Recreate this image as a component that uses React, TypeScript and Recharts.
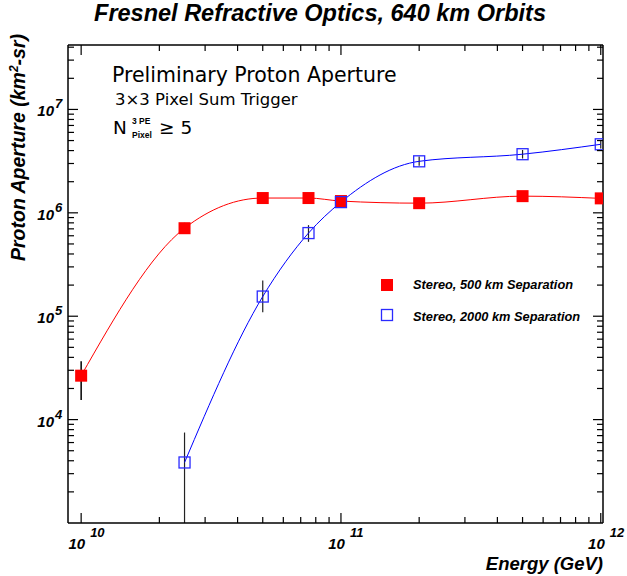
import { ComposedChart, Line, XAxis, YAxis, ErrorBar } from "recharts";

// Stereo, 500 km separation (filled red squares)
const energy500 = [1e10, 2.5e10, 5e10, 7.5e10, 1e11, 2e11, 5e11, 1e12];
const aperture500 = [2.66e4, 7.1e5, 1.39e6, 1.39e6, 1.3e6, 1.24e6, 1.45e6, 1.38e6];
const aperture500Low = [1.55e4, 6.3e5, 1.25e6, 1.25e6, 1.18e6, 1.12e6, 1.31e6, 1.25e6];
const aperture500High = [3.66e4, 8.0e5, 1.55e6, 1.55e6, 1.44e6, 1.38e6, 1.6e6, 1.52e6];

// Stereo, 2000 km separation (open blue squares)
const energy2000 = [2.5e10, 5e10, 7.5e10, 1e11, 2e11, 5e11, 1e12];
const aperture2000 = [3.85e3, 1.55e5, 6.37e5, 1.27e6, 3.15e6, 3.69e6, 4.6e6];
const aperture2000Low = [1e3, 1.09e5, 5.24e5, 1.12e6, 2.85e6, 3.35e6, 4.2e6];
const aperture2000High = [7.5e3, 2.21e5, 7.6e5, 1.45e6, 3.5e6, 4.05e6, 5.0e6];

const energyTicks = [
  1e10, 2e10, 3e10, 4e10, 5e10, 6e10, 7e10, 8e10, 9e10,
  1e11, 2e11, 3e11, 4e11, 5e11, 6e11, 7e11, 8e11, 9e11, 1e12,
];
const apertureTicks = [
  2e3, 3e3, 4e3, 5e3, 6e3, 7e3, 8e3, 9e3,
  1e4, 2e4, 3e4, 4e4, 5e4, 6e4, 7e4, 8e4, 9e4,
  1e5, 2e5, 3e5, 4e5, 5e5, 6e5, 7e5, 8e5, 9e5,
  1e6, 2e6, 3e6, 4e6, 5e6, 6e6, 7e6, 8e6, 9e6,
  1e7, 2e7, 3e7, 4e7,
];

const series500 = energy500.map((energy, i) => ({
  energy,
  aperture: aperture500[i],
  err: [aperture500[i] - aperture500Low[i], aperture500High[i] - aperture500[i]],
}));
const series2000 = energy2000.map((energy, i) => ({
  energy,
  aperture: aperture2000[i],
  err: [aperture2000[i] - aperture2000Low[i], aperture2000High[i] - aperture2000[i]],
}));

const axisFont = "'Liberation Sans', Arial, sans-serif";
const textFont = "'DejaVu Sans', sans-serif";
const isDecade = (v: number) => Math.abs(Math.log10(v) - Math.round(Math.log10(v))) < 1e-6;

const LeftTick = (props: any) => {
  const { x, y, payload } = props;
  const dec = isDecade(payload.value);
  return (
    <g>
      <line x1={x} x2={x + (dec ? 10 : 6)} y1={y} y2={y} stroke="#000" strokeWidth={1.2} />
      {dec && (
        <text fontFamily={axisFont} fontWeight="bold" fontStyle="italic" fill="#000">
          <tspan x={x - 14} y={y + 7} fontSize={15} textAnchor="end">10</tspan>
          <tspan x={x - 13} y={y - 1} fontSize={13}>{Math.round(Math.log10(payload.value))}</tspan>
        </text>
      )}
    </g>
  );
};

const RightTick = (props: any) => {
  const { x, y, payload } = props;
  const dec = isDecade(payload.value);
  return <line x1={x} x2={x - (dec ? 10 : 6)} y1={y} y2={y} stroke="#000" strokeWidth={1.2} />;
};

const BottomTick = (props: any) => {
  const { x, y, payload } = props;
  const dec = isDecade(payload.value);
  return (
    <g>
      <line x1={x} x2={x} y1={y} y2={y - (dec ? 10 : 6)} stroke="#000" strokeWidth={1.2} />
      {dec && (
        <text fontFamily={axisFont} fontWeight="bold" fontStyle="italic" fill="#000">
          <tspan x={x + 4} y={y + 26} fontSize={15} textAnchor="end">10</tspan>
          <tspan x={x + 9} y={y + 14} fontSize={13}>{Math.round(Math.log10(payload.value))}</tspan>
        </text>
      )}
    </g>
  );
};

const TopTick = (props: any) => {
  const { x, y, payload } = props;
  const dec = isDecade(payload.value);
  return <line x1={x} x2={x} y1={y} y2={y + (dec ? 10 : 6)} stroke="#000" strokeWidth={1.2} />;
};

const RedSquare = (props: any) => {
  const { cx, cy } = props;
  if (cx == null || cy == null) return <g />;
  return <rect x={cx - 6} y={cy - 6} width={12} height={12} fill="#ff0000" />;
};

const BlueSquare = (props: any) => {
  const { cx, cy } = props;
  if (cx == null || cy == null) return <g />;
  return <rect x={cx - 5.5} y={cy - 5.5} width={11} height={11} fill="none" stroke="#2a2aff" strokeWidth={1.3} />;
};

export default function App() {
  const xDomain: [number, number] = [8.9e9, 1.02e12];
  const yDomain: [number, number] = [1e3, 4.2e7];
  const axisLine = { stroke: "#000", strokeWidth: 1.5 };
  return (
    <div style={{ position: "absolute", left: 0, top: 0, width: 627, height: 576, background: "#fff" }}>
      <ComposedChart width={627} height={576} margin={{ top: 0, right: 0, bottom: 0, left: 0 }}>
        <XAxis xAxisId="b" type="number" dataKey="energy" scale="log" domain={xDomain} allowDataOverflow
          ticks={energyTicks} interval={0} tick={BottomTick} tickLine={false} tickSize={0} tickMargin={0}
          axisLine={axisLine} height={53} orientation="bottom" />
        <XAxis xAxisId="t" type="number" dataKey="energy" scale="log" domain={xDomain} allowDataOverflow
          ticks={energyTicks} interval={0} tick={TopTick} tickLine={false} tickSize={0} tickMargin={0}
          axisLine={axisLine} height={45} orientation="top" />
        <YAxis yAxisId="l" type="number" scale="log" domain={yDomain} allowDataOverflow
          ticks={apertureTicks} interval={0} tick={LeftTick} tickLine={false} tickSize={0} tickMargin={0}
          axisLine={axisLine} width={68} orientation="left" />
        <YAxis yAxisId="r" type="number" scale="log" domain={yDomain} allowDataOverflow
          ticks={apertureTicks} interval={0} tick={RightTick} tickLine={false} tickSize={0} tickMargin={0}
          axisLine={axisLine} width={24} orientation="right" />
        <Line xAxisId="b" yAxisId="l" data={series500} dataKey="aperture" stroke="none" dot={RedSquare}
          isAnimationActive={false} legendType="none" />
        <Line xAxisId="b" yAxisId="l" data={series500} dataKey="aperture" type="monotone" stroke="#ff0000"
          strokeWidth={1} dot={false} activeDot={false} isAnimationActive={false}>
          <ErrorBar dataKey="err" direction="y" width={0} stroke="#000" strokeWidth={1.5} />
        </Line>
        <Line xAxisId="b" yAxisId="l" data={series2000} dataKey="aperture" stroke="none" dot={BlueSquare}
          isAnimationActive={false} legendType="none" />
        <Line xAxisId="b" yAxisId="l" data={series2000} dataKey="aperture" type="monotone" stroke="#0000ff"
          strokeWidth={1} dot={false} activeDot={false} isAnimationActive={false}>
          <ErrorBar dataKey="err" direction="y" width={0} stroke="#222" strokeWidth={1.2} />
        </Line>
      </ComposedChart>
      <svg width={627} height={576} style={{ position: "absolute", left: 0, top: 0, pointerEvents: "none" }}>
        <text x={320} y={21} textAnchor="middle" fontFamily={axisFont} fontWeight="bold" fontStyle="italic" fontSize={23.5}>
          Fresnel Refractive Optics, 640 km Orbits
        </text>
        <text transform="translate(25,147.5) rotate(-90)" textAnchor="middle" fontFamily={axisFont} fontWeight="bold"
          fontStyle="italic" fontSize={19.5}>
          Proton Aperture (km<tspan dy={-7} fontSize={12}>2</tspan><tspan dy={7}>-sr)</tspan>
        </text>
        <text x={603} y={570} textAnchor="end" fontFamily={axisFont} fontWeight="bold" fontStyle="italic" fontSize={18.5}>
          Energy (GeV)
        </text>
        <text x={112} y={81.5} fontFamily={textFont} fontSize={20.5}>Preliminary Proton Aperture</text>
        <text x={115} y={105} fontFamily={textFont} fontSize={16.5}>3×3 Pixel Sum Trigger</text>
        <text x={113} y={134} fontFamily={textFont} fontSize={18.5}>N</text>
        <text x={132} y={124} fontFamily={axisFont} fontWeight="bold" fontSize={8.5}>3 PE</text>
        <text x={132} y={137.5} fontFamily={axisFont} fontWeight="bold" fontSize={8.5}>Pixel</text>
        <text x={159} y={134} fontFamily={textFont} fontSize={18.5}>≥ 5</text>
        <rect x={381} y={279} width={12} height={12} fill="#ff0000" />
        <text x={413} y={289} fontFamily={axisFont} fontWeight="bold" fontStyle="italic" fontSize={12.8}>
          Stereo, 500 km Separation
        </text>
        <rect x={381.5} y={309.5} width={11} height={11} fill="none" stroke="#2a2aff" strokeWidth={1.3} />
        <text x={413} y={321} fontFamily={axisFont} fontWeight="bold" fontStyle="italic" fontSize={12.8}>
          Stereo, 2000 km Separation
        </text>
      </svg>
    </div>
  );
}
